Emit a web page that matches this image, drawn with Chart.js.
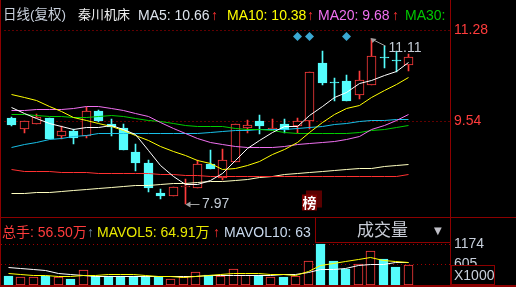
<!DOCTYPE html>
<html>
<head>
<meta charset="utf-8">
<script src="https://cdn.jsdelivr.net/npm/chart.js"></script>
<style>
html,body{margin:0;padding:0;background:#000;overflow:hidden}
#wrap{position:relative;width:516px;height:287px;background:#000;overflow:hidden;
  font-family:"Liberation Sans",Arial,"Noto Sans CJK SC",sans-serif}
canvas{position:absolute;left:0}
#c1{top:0}
#c2{top:218px}
.ln{position:absolute;background:#8c0000}
.t{position:absolute;white-space:nowrap;font-size:14px;line-height:16px}
#hdr{position:absolute;left:0;top:0;width:450px;height:24px;overflow:hidden}
#vbox{position:absolute;left:315px;top:218px;width:135px;height:24px;background:#000;
  border-left:1px solid #8c0000;border-bottom:1px solid #8c0000}
#xbox{position:absolute;left:451px;top:265px;width:44px;height:20px;box-sizing:border-box;
  border:1px solid #8c0000;background:#000;color:#c8d0dc;font-size:14px;line-height:18px;padding-left:2px}
</style>
</head>
<body>
<div id="wrap">
  <canvas id="c1" width="516" height="217"></canvas>
  <canvas id="c2" width="516" height="67"></canvas>

  <div id="hdr">
    <span class="t" style="left:3px;top:7px;color:#c8d0dc;font-size:13.5px">日线(复权)</span>
    <span class="t" style="left:78px;top:7px;color:#eeeeee;font-size:13px">秦川机床</span>
    <span class="t" style="left:138px;top:7px;color:#dde3ec">MA5: 10.66</span>
    <span class="t" style="left:211px;top:7px;color:#ff3030">↑</span>
    <span class="t" style="left:227px;top:7px;color:#ffff00">MA10: 10.38</span>
    <span class="t" style="left:307px;top:7px;color:#ff3030">↑</span>
    <span class="t" style="left:318px;top:7px;color:#f070f0">MA20: 9.68</span>
    <span class="t" style="left:392px;top:7px;color:#ff3030">↑</span>
    <span class="t" style="left:405px;top:7px;color:#00c800">MA30:</span>
  </div>

  <span class="t" style="left:2px;top:224px;color:#ff3c3c">总手: 56.50万</span>
  <span class="t" style="left:87px;top:224px;color:#7088a8">↑</span>
  <span class="t" style="left:97px;top:224px;color:#e8e800">MAVOL5: 64.91万</span>
  <span class="t" style="left:213px;top:224px;color:#ff3030">↑</span>
  <span class="t" style="left:224px;top:224px;color:#c8d8ec">MAVOL10: 63</span>

  <div id="vbox">
    <span class="t" style="left:41px;top:3px;font-size:17px;line-height:20px;color:#c8ccd6">成交量</span>
    <span class="t" style="left:118px;top:7px;font-size:10px;line-height:12px;color:#c0c0c8;font-family:'DejaVu Sans'">▼</span>
  </div>
  <div id="xbox">X1000</div>

  <div class="ln" style="left:0;top:0;width:1px;height:287px"></div>
  <div class="ln" style="left:450px;top:0;width:1px;height:287px"></div>
  <div class="ln" style="left:0;top:217px;width:516px;height:1px"></div>
  <div class="ln" style="left:0;top:285px;width:516px;height:2px"></div>
</div>

<script>
// ---- data ----
const openP  = [9.61,9.39,9.49,9.60,9.27,9.36,9.27,9.74,9.49,9.41,8.95,8.75,8.17,8.12,8.28,8.26,8.72,8.45,8.77,9.42,9.54,9.38,9.49,9.45,9.55,10.65,10.28,10.31,10.05,10.23,10.78,10.70,10.62];
const highP  = [9.63,9.54,9.68,9.60,9.45,9.39,9.82,9.76,9.58,9.49,9.10,8.80,8.25,8.29,8.44,8.81,8.99,9.01,9.50,9.56,9.67,9.59,9.58,9.61,10.49,10.88,10.37,10.43,10.51,11.11,10.98,10.89,10.83];
const lowP   = [9.45,9.31,9.49,9.21,9.21,9.11,9.23,9.52,9.27,9.00,8.60,8.19,8.05,8.12,7.97,8.26,8.63,8.42,8.77,9.32,9.30,9.38,9.32,9.32,9.39,10.24,9.93,9.94,9.96,10.23,10.57,10.49,10.51];
const closeP = [9.47,9.54,9.63,9.21,9.36,9.22,9.74,9.55,9.43,9.00,8.74,8.26,8.11,8.29,8.31,8.72,8.63,8.80,9.50,9.47,9.45,9.41,9.38,9.54,10.49,10.27,10.27,9.94,10.33,10.79,10.76,10.69,10.78];

const ma5   = [9.81,9.70,9.59,9.50,9.44,9.39,9.43,9.42,9.46,9.39,9.29,8.99,8.70,8.48,8.34,8.34,8.41,8.55,8.79,9.02,9.17,9.33,9.44,9.45,9.65,9.82,9.99,10.10,10.26,10.32,10.42,10.50,10.66];
const ma10  = [10.05,10.00,9.94,9.83,9.73,9.61,9.56,9.50,9.44,9.36,9.27,9.17,9.06,8.97,8.89,8.79,8.73,8.63,8.65,8.70,8.78,8.90,9.01,9.13,9.33,9.52,9.68,9.78,9.85,10.00,10.13,10.24,10.38];
const ma20  = [9.74,9.74,9.76,9.77,9.77,9.78,9.82,9.82,9.79,9.75,9.70,9.63,9.52,9.41,9.30,9.21,9.13,9.09,9.06,9.05,9.05,9.05,9.06,9.09,9.11,9.14,9.16,9.19,9.25,9.38,9.47,9.56,9.68];
const ma30  = [9.68,9.67,9.65,9.64,9.63,9.61,9.62,9.64,9.65,9.63,9.59,9.56,9.53,9.50,9.47,9.45,9.44,9.44,9.41,9.39,9.38,9.36,9.32,9.31,9.30,9.30,9.30,9.30,9.32,9.36,9.39,9.42,9.47];
const ma60  = [9.05,9.09,9.13,9.19,9.22,9.26,9.28,9.30,9.31,9.31,9.31,9.30,9.30,9.30,9.30,9.31,9.33,9.34,9.36,9.37,9.38,9.39,9.39,9.41,9.43,9.45,9.49,9.50,9.53,9.55,9.56,9.57,9.58];
const ma120 = [8.62,8.59,8.58,8.58,8.57,8.57,8.56,8.55,8.55,8.55,8.54,8.54,8.53,8.53,8.50,8.50,8.49,8.48,8.48,8.48,8.48,8.48,8.48,8.48,8.48,8.48,8.48,8.48,8.48,8.49,8.49,8.49,8.53];
const ma250 = [8.16,8.17,8.18,8.19,8.21,8.22,8.24,8.26,8.28,8.30,8.31,8.32,8.34,8.35,8.36,8.37,8.39,8.40,8.42,8.43,8.46,8.48,8.52,8.55,8.57,8.59,8.61,8.62,8.64,8.65,8.67,8.69,8.71];

const volume  = [245,228,228,250,228,179,435,245,245,245,245,245,216,179,216,370,285,245,455,293,273,216,228,245,691,1174,700,455,606,976,748,529,575];
const mavol5  = [321,290,279,262,250,250,275,285,290,293,293,285,250,245,228,245,273,313,330,330,325,310,300,262,387,558,626,663,720,785,700,663,649];
const mavol10 = [512,464,435,407,341,293,273,256,256,256,256,256,256,256,256,256,265,265,270,285,285,285,290,313,350,435,455,472,545,575,600,640,650];

const priceTicks = [9.54, 11.28];
const volTicks = [605, 1174];
const signalIdx = [23, 24, 27];
const signalLevel = 11.16;
const bangIdx = 24;

// ---- layout constants ----
const X_MIN = -0.6, X_MAX = -0.6 + 449 / 12.5;
const P_MIN = 7.80, P_MAX = 11.7745;
const V_MAX = 1918;
const RED = '#ff3c3c', CYAN = '#54fcfc';

// linear scales that snap to whole device pixels (crisp 1px candles, like the original)
const LS = Chart.LinearScale || Chart.registry.getScale('linear');
class SnapX extends LS { getPixelForValue(v) { return Math.ceil(super.getPixelForValue(v) - 1e-6) - 0.5; } }
SnapX.id = 'snapx'; SnapX.defaults = LS.defaults;
class SnapY extends LS { getPixelForValue(v) { return Math.round(super.getPixelForValue(v)); } }
SnapY.id = 'snapy'; SnapY.defaults = LS.defaults;
class SnapYL extends LS { getPixelForValue(v) { return Math.floor(super.getPixelForValue(v)) + 0.5; } }
SnapYL.id = 'snapyl'; SnapYL.defaults = LS.defaults;
Chart.register(SnapX, SnapY, SnapYL);

const up = closeP.map((c, i) => c >= openP[i]);
const pts = arr => arr.map((v, i) => ({x: i, y: v}));
const line = (arr, color) => ({type: 'line', data: pts(arr), yAxisID: 'yl', borderColor: color, borderWidth: 1,
  pointRadius: 0, tension: 0, order: 0});

const axisFit = s => { s.width = 66; s.paddingTop = 0; s.paddingBottom = 0; };

const marks = {
  id: 'marks',
  afterDatasetsDraw(chart) {
    const {ctx, scales: {x, y}, chartArea} = chart;
    let hi = 0, lo = 0;
    highP.forEach((v, i) => { if (v > highP[hi]) hi = i; });
    lowP.forEach((v, i) => { if (v < lowP[lo]) lo = i; });
    ctx.save();
    ctx.strokeStyle = '#a0a0a0'; ctx.fillStyle = '#a0a0a0'; ctx.lineWidth = 1;
    let px = x.getPixelForValue(hi), py = y.getPixelForValue(highP[hi]);
    ctx.beginPath(); ctx.moveTo(px + 2, py + 1); ctx.lineTo(px + 14, py + 7); ctx.stroke();
    ctx.beginPath(); ctx.moveTo(px - 1, py - 1); ctx.lineTo(px + 5, py); ctx.lineTo(px + 1, py + 4); ctx.closePath(); ctx.fill();
    ctx.font = '14px "Liberation Sans", Arial';
    ctx.textBaseline = 'middle'; ctx.textAlign = 'left';
    ctx.fillStyle = '#c4ccd6';
    ctx.fillText(highP[hi].toFixed(2), px + 17, py + 9.5);

    px = x.getPixelForValue(lo); py = y.getPixelForValue(lowP[lo]) + 0.5;
    ctx.fillStyle = '#a0a0a0';
    ctx.beginPath(); ctx.moveTo(px + 4, py); ctx.lineTo(px + 14, py); ctx.stroke();
    ctx.beginPath(); ctx.moveTo(px, py); ctx.lineTo(px + 5, py - 3); ctx.lineTo(px + 5, py + 3); ctx.closePath(); ctx.fill();
    ctx.fillStyle = '#c4ccd6';
    ctx.fillText(lowP[lo].toFixed(2), px + 16.5, py);

    const bx = Math.round(x.getPixelForValue(bangIdx));
    const b = chartArea.bottom;
    ctx.fillStyle = '#5a0000';
    ctx.fillRect(bx - 4, b - 22, 16, 17);
    ctx.fillStyle = '#7d0000';
    ctx.fillRect(bx - 8, b - 18, 15, 16);
    ctx.fillStyle = '#ffffff';
    ctx.font = 'bold 14px "Noto Sans CJK SC"';
    ctx.textAlign = 'center';
    ctx.fillText('榜', bx - 0.5, b - 10);
    ctx.restore();
  }
};

const xScale = {type: 'snapx', display: false, min: X_MIN, max: X_MAX, offset: false};

new Chart(document.getElementById('c1'), {
  type: 'bar',
  data: {datasets: [
    line(ma5, '#ffffff'), line(ma10, '#ffff00'), line(ma20, '#f070f0'), line(ma30, '#00cc00'),
    line(ma60, '#18c0e8'), line(ma120, '#ff3030'), line(ma250, '#ffffc0'),
    {type: 'scatter', data: signalIdx.map(i => ({x: i, y: signalLevel})), yAxisID: 'yl', pointStyle: 'rectRot',
      pointRadius: 4.5, backgroundColor: '#3aa8d2', borderWidth: 0, order: 0},
    {type: 'bar', data: openP.map((o, i) => ({x: i, y: [o, closeP[i]]})), yAxisID: 'y',
      backgroundColor: up.map(u => u ? '#000000' : CYAN), borderColor: up.map(u => u ? RED : CYAN),
      borderWidth: 1, borderSkipped: false, barThickness: 9, minBarLength: 1, grouped: false, order: 1},
    {type: 'bar', data: lowP.map((l, i) => ({x: i, y: [l, highP[i]]})), yAxisID: 'y',
      backgroundColor: up.map(u => u ? RED : CYAN), borderWidth: 0, barThickness: 1, grouped: false, order: 2}
  ]},
  options: {
    responsive: false, animation: false, events: [],
    layout: {padding: {left: 1, right: 0, top: 0, bottom: 0}},
    plugins: {legend: {display: false}, tooltip: {enabled: false}},
    scales: {
      x: xScale,
      yl: {type: 'snapyl', display: false, min: P_MIN, max: P_MAX},
      y: {type: 'snapy', position: 'right', min: P_MIN, max: P_MAX,
        afterBuildTicks: s => { s.ticks = priceTicks.map(v => ({value: v})); },
        afterFit: axisFit,
        grid: {color: '#c00000', lineWidth: 1, drawTicks: false},
        border: {display: false, dash: [1, 3]},
        ticks: {color: RED, font: {family: '"Liberation Sans", Arial', size: 14}, padding: 4,
          callback: v => Number(v).toFixed(2)}}
    }
  },
  plugins: [marks]
});

new Chart(document.getElementById('c2'), {
  type: 'bar',
  data: {datasets: [
    line(mavol5, '#ffff00'), line(mavol10, '#ffffff'),
    {type: 'bar', data: pts(volume), yAxisID: 'y',
      backgroundColor: up.map(u => u ? '#000000' : CYAN), borderColor: up.map(u => u ? RED : CYAN),
      borderWidth: 1, borderSkipped: false, barThickness: 9, grouped: false, order: 1}
  ]},
  options: {
    responsive: false, animation: false, events: [],
    layout: {padding: {left: 1, right: 0, top: 0, bottom: 0}},
    plugins: {legend: {display: false}, tooltip: {enabled: false}},
    scales: {
      x: xScale,
      yl: {type: 'snapyl', display: false, min: 0, max: V_MAX},
      y: {type: 'snapy', position: 'right', min: 0, max: V_MAX,
        afterBuildTicks: s => { s.ticks = volTicks.map(v => ({value: v})); },
        afterFit: axisFit,
        grid: {color: '#a00000', lineWidth: 1, drawTicks: false},
        border: {display: false, dash: [1, 3]},
        ticks: {color: '#c8d0dc', font: {family: '"Liberation Sans", Arial', size: 14}, padding: 4,
          callback: v => String(v)}}
    }
  }
});
</script>
</body>
</html>
